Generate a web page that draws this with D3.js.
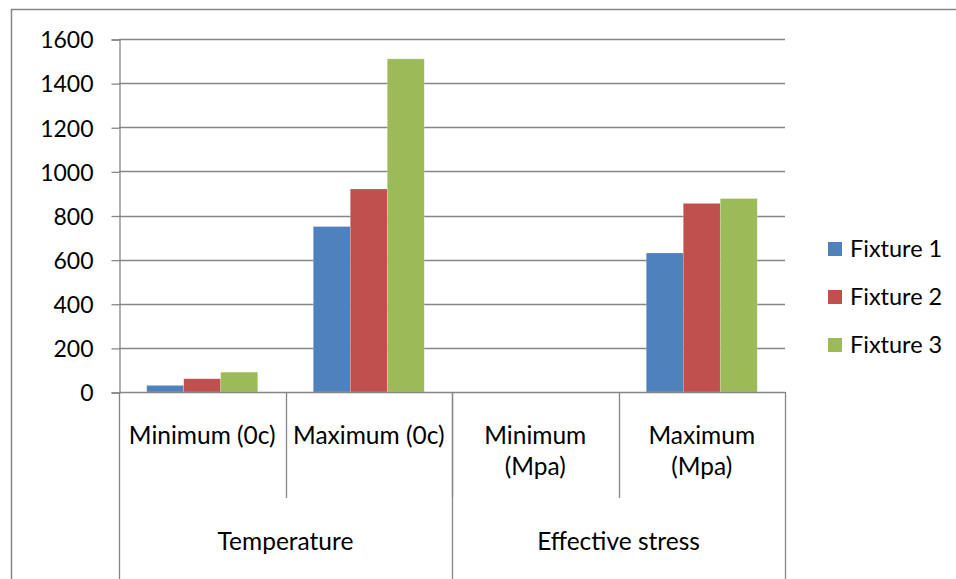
<!DOCTYPE html>
<html>
<head>
<meta charset="utf-8">
<script src="https://cdn.jsdelivr.net/npm/d3@7"></script>
<style>
  html, body { margin: 0; padding: 0; background: #fff; }
  svg { display: block; }
  text { font-family: Lato, "Open Sans", sans-serif; fill: #000; }
</style>
</head>
<body>
<svg id="chart" width="956" height="579"></svg>
<script>
// ---- data ----
const categories = ["Minimum (0c)", "Maximum (0c)", "Minimum (Mpa)", "Maximum (Mpa)"];
const categoryLines = [["Minimum (0c)"], ["Maximum (0c)"], ["Minimum", "(Mpa)"], ["Maximum", "(Mpa)"]];
const groups = ["Temperature", "Effective stress"];
const groupSizes = [2, 2];
const seriesNames = ["Fixture 1", "Fixture 2", "Fixture 3"];
const fixture1 = [30, 750, 0, 630];
const fixture2 = [60, 920, 0, 855];
const fixture3 = [90, 1510, 0, 877];
const yTicks = [0, 200, 400, 600, 800, 1000, 1200, 1400, 1600];
const colors = ["#4F81BD", "#C0504D", "#9BBB59"];

const seriesValues = [fixture1, fixture2, fixture3];

const svg = d3.select("#chart");
const plotL = 119, plotR = 785, plotT = 39, plotB = 392;
const axisColor = "#868686";
const tickFont = 23, labelFont = 24.5, legendFont = 23.5;

// outer frame
svg.append("path")
  .attr("d", "M11.5,579 L11.5,9.5 L956,9.5")
  .attr("fill", "none").attr("stroke", axisColor).attr("stroke-width", 1.5);

const y = d3.scaleLinear().domain([0, 1600]).range([plotB, plotT]);
const x0 = d3.scaleBand().domain(categories).range([plotL, plotR]).paddingInner(0).paddingOuter(0);
const x1 = d3.scaleBand().domain(seriesNames).range([0, x0.bandwidth()]).paddingInner(0).paddingOuter(0.75);

// gridlines
svg.append("g").selectAll("line").data(yTicks.filter(d => d > 0)).join("line")
  .attr("x1", plotL).attr("x2", plotR)
  .attr("y1", d => Math.round(y(d)) + 0.5).attr("y2", d => Math.round(y(d)) + 0.5)
  .attr("stroke", axisColor).attr("stroke-width", 1.3);

// y axis
const yAxis = d3.axisLeft(y).tickValues(yTicks).tickSize(8).tickPadding(18).tickFormat(d3.format("d"));
const yg = svg.append("g").attr("transform", `translate(${plotL + 0.5},0.5)`).call(yAxis);
yg.select(".domain").attr("stroke", axisColor).attr("stroke-width", 1.3);
yg.selectAll(".tick line").attr("stroke", axisColor).attr("stroke-width", 1.3);
yg.selectAll(".tick text").attr("font-family", "Lato, sans-serif").attr("font-size", tickFont)
  .attr("fill", "#000").attr("dy", "0.36em");

// bars
const bars = svg.append("g");
categories.forEach((c, ci) => {
  seriesNames.forEach((s, si) => {
    const v = seriesValues[si][ci];
    if (v <= 0) return;
    bars.append("rect")
      .attr("x", x0(c) + x1(s))
      .attr("y", y(v))
      .attr("width", x1.bandwidth())
      .attr("height", y(0) - y(v))
      .attr("fill", colors[si])
      .attr("stroke", "rgba(255,255,255,0.35)")
      .attr("stroke-width", 0.6);
  });
});

// baseline
svg.append("line").attr("x1", plotL).attr("x2", plotR)
  .attr("y1", Math.round(y(0)) + 0.5).attr("y2", Math.round(y(0)) + 0.5)
  .attr("stroke", axisColor).attr("stroke-width", 1.3);

// category separators (short)
const sepShortBottom = 498, sepLongBottom = 579;
categories.forEach((c, ci) => {
  if (ci === 0) return;
  const gx = Math.round(x0(c)) + 0.5;
  svg.append("line").attr("x1", gx).attr("x2", gx).attr("y1", y(0)).attr("y2", sepShortBottom)
    .attr("stroke", axisColor).attr("stroke-width", 1.3);
});
// group separators (long)
let acc = 0;
const groupEdges = [0];
groupSizes.forEach(n => { acc += n; groupEdges.push(acc); });
groupEdges.forEach(k => {
  const gx = k < categories.length ? x0(categories[k]) : plotR;
  const px = Math.round(gx) + 0.5;
  svg.append("line").attr("x1", px).attr("x2", px).attr("y1", y(0)).attr("y2", sepLongBottom)
    .attr("stroke", axisColor).attr("stroke-width", 1.3);
});

// category labels
categories.forEach((c, ci) => {
  const cx = x0(c) + x0.bandwidth() / 2;
  categoryLines[ci].forEach((ln, li) => {
    svg.append("text").attr("x", cx).attr("y", 435 + li * 31).attr("dy", "0.36em")
      .attr("text-anchor", "middle").attr("font-size", labelFont).text(ln);
  });
});

// group labels
groups.forEach((g, gi) => {
  const a = x0(categories[groupEdges[gi]]);
  const bIdx = groupEdges[gi + 1];
  const b = bIdx < categories.length ? x0(categories[bIdx]) : plotR;
  svg.append("text").attr("x", (a + b) / 2).attr("y", 541).attr("dy", "0.36em")
    .attr("text-anchor", "middle").attr("font-size", labelFont).text(g);
});

// legend
const lg = svg.append("g");
seriesNames.forEach((s, i) => {
  const ly = 249 + i * 48;
  lg.append("rect").attr("x", 828).attr("y", ly - 7).attr("width", 14).attr("height", 14).attr("fill", colors[i]);
  lg.append("text").attr("x", 850).attr("y", ly).attr("dy", "0.36em").attr("font-size", legendFont).text(s);
});
</script>
</body>
</html>
